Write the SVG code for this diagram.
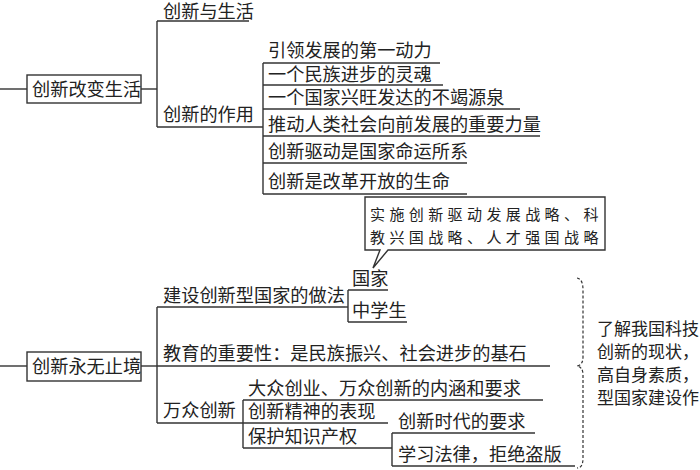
<svg xmlns="http://www.w3.org/2000/svg" width="700" height="470" viewBox="0 0 700 470">
<style>
text{font-family:"Noto Sans CJK SC","Noto Sans CJK JP",sans-serif;font-size:18.2px;fill:#222}
.s{font-family:"Noto Sans CJK SC",serif;font-size:15px;letter-spacing:4.4px}
.r{font-size:17px}
line,rect,path{stroke:#333;stroke-width:1.4;fill:none}
.d{stroke-dasharray:3 2;stroke-width:1.2}
</style>
<rect width="700" height="470" fill="#fff" style="stroke:none"/>
<g id="connectors">
<line x1="0" y1="89" x2="27" y2="89"/><line x1="141" y1="89" x2="157" y2="89"/>
<line x1="157" y1="21" x2="157" y2="127"/>
<line x1="157" y1="21" x2="249" y2="21"/><line x1="157" y1="127" x2="263" y2="127"/>
<line x1="263" y1="63" x2="263" y2="194"/>
<line x1="263" y1="63" x2="440" y2="63"/><line x1="263" y1="85" x2="443" y2="85"/>
<line x1="263" y1="109" x2="520" y2="109"/><line x1="263" y1="136" x2="540" y2="136"/>
<line x1="263" y1="163" x2="467" y2="163"/><line x1="263" y1="194" x2="467" y2="194"/>
<line x1="0" y1="366" x2="27" y2="366"/><line x1="141" y1="366" x2="157" y2="366"/>
<line x1="157" y1="307" x2="157" y2="423"/>
<line x1="157" y1="307" x2="345" y2="307"/><line x1="157" y1="366" x2="550" y2="366"/>
<line x1="157" y1="423" x2="243" y2="423"/>
<line x1="348" y1="290" x2="348" y2="322"/><line x1="345" y1="307" x2="348" y2="307"/>
<line x1="348" y1="290" x2="388" y2="290"/><line x1="348" y1="322" x2="407" y2="322"/>
<line x1="243" y1="400" x2="243" y2="448"/>
<line x1="243" y1="400" x2="543" y2="400"/><line x1="243" y1="423" x2="388" y2="423"/>
<line x1="243" y1="448" x2="392" y2="448"/>
<line x1="392" y1="433" x2="392" y2="466"/>
<line x1="392" y1="433" x2="535" y2="433"/><line x1="392" y1="466" x2="575" y2="466"/>
<path class="d" d="M577,278 Q583,279 583,290 L583,357 Q583,365 577,366 Q583,367 583,375 L583,458 Q583,468 577,468"/>
</g>
<g id="n1"><rect x="27" y="75" width="114" height="28"/><text x="32" y="96">创新改变生活</text></g>
<g id="n2"><text x="163" y="18">创新与生活</text></g>
<g id="n3"><text x="163" y="121">创新的作用</text></g>
<g id="n4"><text x="268" y="57">引领发展的第一动力</text></g>
<g id="n5"><text x="268" y="81">一个民族进步的灵魂</text></g>
<g id="n6"><text x="268" y="104">一个国家兴旺发达的不竭源泉</text></g>
<g id="n7"><text x="268" y="131">推动人类社会向前发展的重要力量</text></g>
<g id="n8"><text x="268" y="158">创新驱动是国家命运所系</text></g>
<g id="n9"><text x="268" y="188">创新是改革开放的生命</text></g>
<g id="n10"><rect x="27" y="352" width="114" height="29"/><text x="32" y="373">创新永无止境</text></g>
<g id="n11"><text x="163" y="302">建设创新型国家的做法</text></g>
<g id="n12"><text x="352" y="285">国家</text></g>
<g id="n13"><text x="352" y="317">中学生</text></g>
<g id="n14"><path d="M365,197 L605,197 L605,250 L388,250 L373,268 L380,250 L365,250 Z" style="fill:#fff"/>
<text class="s" x="370" y="220">实施创新驱动发展战略、科</text><text class="s" x="370" y="243">教兴国战略、人才强国战略</text></g>
<g id="n15"><text x="163" y="360">教育的重要性：是民族振兴、社会进步的基石</text></g>
<g id="n16"><text x="163" y="417">万众创新</text></g>
<g id="n17"><text x="248" y="395">大众创业、万众创新的内涵和要求</text></g>
<g id="n18"><text x="248" y="418">创新精神的表现</text></g>
<g id="n19"><text x="248" y="443">保护知识产权</text></g>
<g id="n20"><text x="398" y="428">创新时代的要求</text></g>
<g id="n21"><text x="398" y="461">学习法律，拒绝盗版</text></g>
<g id="n22"><text class="r" x="597" y="335">了解我国科技</text><text class="r" x="597" y="358">创新的现状，</text><text class="r" x="597" y="381">高自身素质，</text><text class="r" x="597" y="404">型国家建设作</text></g>
</svg>
